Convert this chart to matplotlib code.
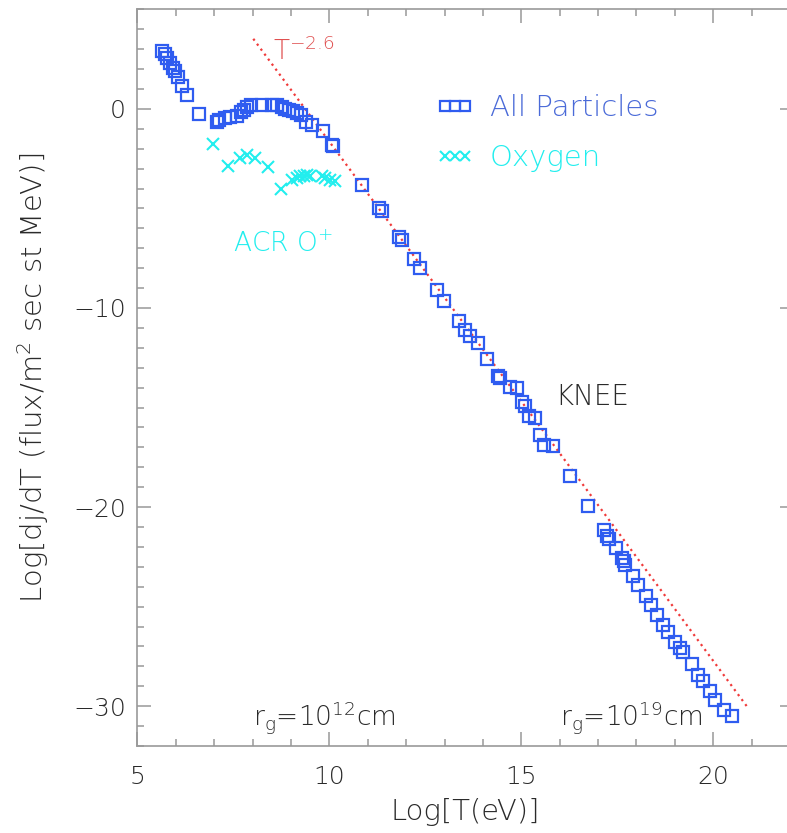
import matplotlib
matplotlib.use("Agg")
import matplotlib.pyplot as plt
from matplotlib.ticker import MultipleLocator

plt.rcParams['font.family'] = ['DejaVu Sans']
plt.rcParams['font.weight'] = 'light'
plt.rcParams['axes.labelweight'] = 'light'
plt.rcParams['mathtext.fontset'] = 'custom'
plt.rcParams['mathtext.rm'] = 'DejaVu Sans:light'
plt.rcParams['mathtext.it'] = 'DejaVu Sans:light'
plt.rcParams['mathtext.bf'] = 'DejaVu Sans:light'
plt.rcParams['mathtext.sf'] = 'DejaVu Sans:light'
plt.rcParams['mathtext.fallback'] = 'stixsans'

# ---- data ----
all_x = [5.65, 5.72, 5.78, 5.85, 5.92, 5.98, 6.05, 6.17, 6.30, 6.61,
         7.08, 7.13, 7.28, 7.41, 7.59, 7.69, 7.78, 7.86, 7.95, 8.24,
         8.50, 8.63, 8.76, 8.85, 8.96, 9.06, 9.15, 9.26, 9.39, 9.54,
         9.83, 10.06, 10.10, 10.86, 11.29, 11.38, 11.82, 11.89, 12.21, 12.36,
         12.81, 12.99, 13.39, 13.53, 13.66, 13.88, 14.11, 14.40, 14.45, 14.71,
         14.88, 15.01, 15.10, 15.21, 15.36, 15.49, 15.60, 15.83, 16.27, 16.74,
         17.15, 17.24, 17.29, 17.47, 17.61, 17.67, 17.70, 17.90, 18.05, 18.25,
         18.37, 18.53, 18.68, 18.83, 19.00, 19.13, 19.20, 19.44, 19.61, 19.74,
         19.91, 20.04, 20.28, 20.48]
all_y = [2.89, 2.78, 2.56, 2.31, 2.06, 1.89, 1.59, 1.17, 0.72, -0.25,
         -0.67, -0.54, -0.45, -0.40, -0.34, -0.17, -0.04, 0.10, 0.17, 0.18,
         0.17, 0.17, 0.10, 0.00, -0.04, -0.12, -0.20, -0.30, -0.67, -0.79,
         -1.12, -1.79, -1.88, -3.84, -4.97, -5.14, -6.45, -6.56, -7.53, -7.99,
         -9.08, -9.66, -10.67, -11.12, -11.42, -11.75, -12.56, -13.43, -13.51, -13.96,
         -14.01, -14.72, -14.94, -15.44, -15.52, -16.36, -16.88, -16.91, -18.42, -19.92,
         -21.13, -21.43, -21.60, -22.05, -22.55, -22.72, -22.89, -23.44, -23.89, -24.44,
         -24.90, -25.40, -25.90, -26.29, -26.79, -27.07, -27.29, -27.86, -28.41, -28.75,
         -29.25, -29.67, -30.21, -30.51]

oxy_x = [6.97, 7.37, 7.67, 7.85, 8.07, 8.40, 8.73, 9.02, 9.15, 9.24,
         9.33, 9.41, 9.50, 9.80, 9.89, 10.02, 10.15]
oxy_y = [-1.74, -2.88, -2.46, -2.30, -2.46, -2.90, -4.02, -3.59, -3.47, -3.38,
         -3.35, -3.30, -3.38, -3.38, -3.47, -3.55, -3.64]

# T^-2.6 power-law guide line (end points)
pl_x = [8.02, 20.91]
pl_y = [3.52, -30.10]

x_ticks = [5, 10, 15, 20]
y_ticks = [0, -10, -20, -30]

# ---- styles ----
BLUE = '#2f5cf0'
CYAN = '#22eeee'
RED = '#f03a3a'
TXT = '#2a2a2a'
GRAY = '#999999'

fig = plt.figure(figsize=(7.87, 8.33), dpi=100)
ax = fig.add_axes([0.1745, 0.1044, 0.8343, 0.8844])

ax.plot(pl_x, pl_y, linestyle=(0, (1, 1.8)), color=RED, linewidth=1.6, zorder=1)
h_all, = ax.plot(all_x, all_y, linestyle='none', marker='s', markersize=8.3,
                 markerfacecolor='none', markeredgecolor=BLUE, markeredgewidth=1.6,
                 label='All Particles', zorder=3)
h_oxy, = ax.plot(oxy_x, oxy_y, linestyle='none', marker='x', markersize=8.5,
                 color=CYAN, markeredgewidth=1.5, label='Oxygen', zorder=2)

ax.set_xlim(5, 22.1)
ax.set_ylim(-32, 5)
ax.set_xticks(x_ticks)
ax.set_yticks(y_ticks)
ax.xaxis.set_minor_locator(MultipleLocator(1))
ax.yaxis.set_minor_locator(MultipleLocator(1))
ax.tick_params(which='both', direction='in', top=True, right=True, color=GRAY, width=1.1)
ax.tick_params(which='major', length=10, labelsize=18, labelcolor=TXT)
ax.tick_params(which='minor', length=5)
ax.tick_params(axis='x', which='major', pad=14)
ax.tick_params(axis='y', which='major', pad=8)
for s in ax.spines.values():
    s.set_color(GRAY)
    s.set_linewidth(1.2)

ax.set_xlabel('Log[T(eV)]', fontsize=21, color=TXT, labelpad=6)
ax.set_ylabel(r'Log[dj/dT (flux/m$^2$ sec st MeV)]', fontsize=21, color=TXT, labelpad=16)

leg = ax.legend(handles=[h_all, h_oxy], loc='upper left', bbox_to_anchor=(0.455, 0.885),
                frameon=False, numpoints=3, fontsize=21, handlelength=1.3,
                handletextpad=0.55, borderpad=0, borderaxespad=0, labelspacing=0.75,
                markerscale=0.9)
for t, c in zip(leg.get_texts(), ['#4a6ad8', CYAN]):
    t.set_color(c)

ax.text(8.53, 2.48, r'T$^{-2.6}$', color='#e05050', fontsize=19, va='baseline', ha='left')
ax.text(7.49, -7.17, r'ACR O$^{+}$', color=CYAN, fontsize=19, va='baseline', ha='left')
ax.text(15.88, -14.45, 'KNEE', color=TXT, fontsize=20, va='center', ha='left')
ax.text(8.01, -31.0, r'r$_\mathrm{g}$=10$^{12}$cm', color=TXT, fontsize=19, va='baseline', ha='left')
ax.text(16.01, -31.0, r'r$_\mathrm{g}$=10$^{19}$cm', color=TXT, fontsize=19, va='baseline', ha='left')

fig.savefig('out.png', dpi=100)
